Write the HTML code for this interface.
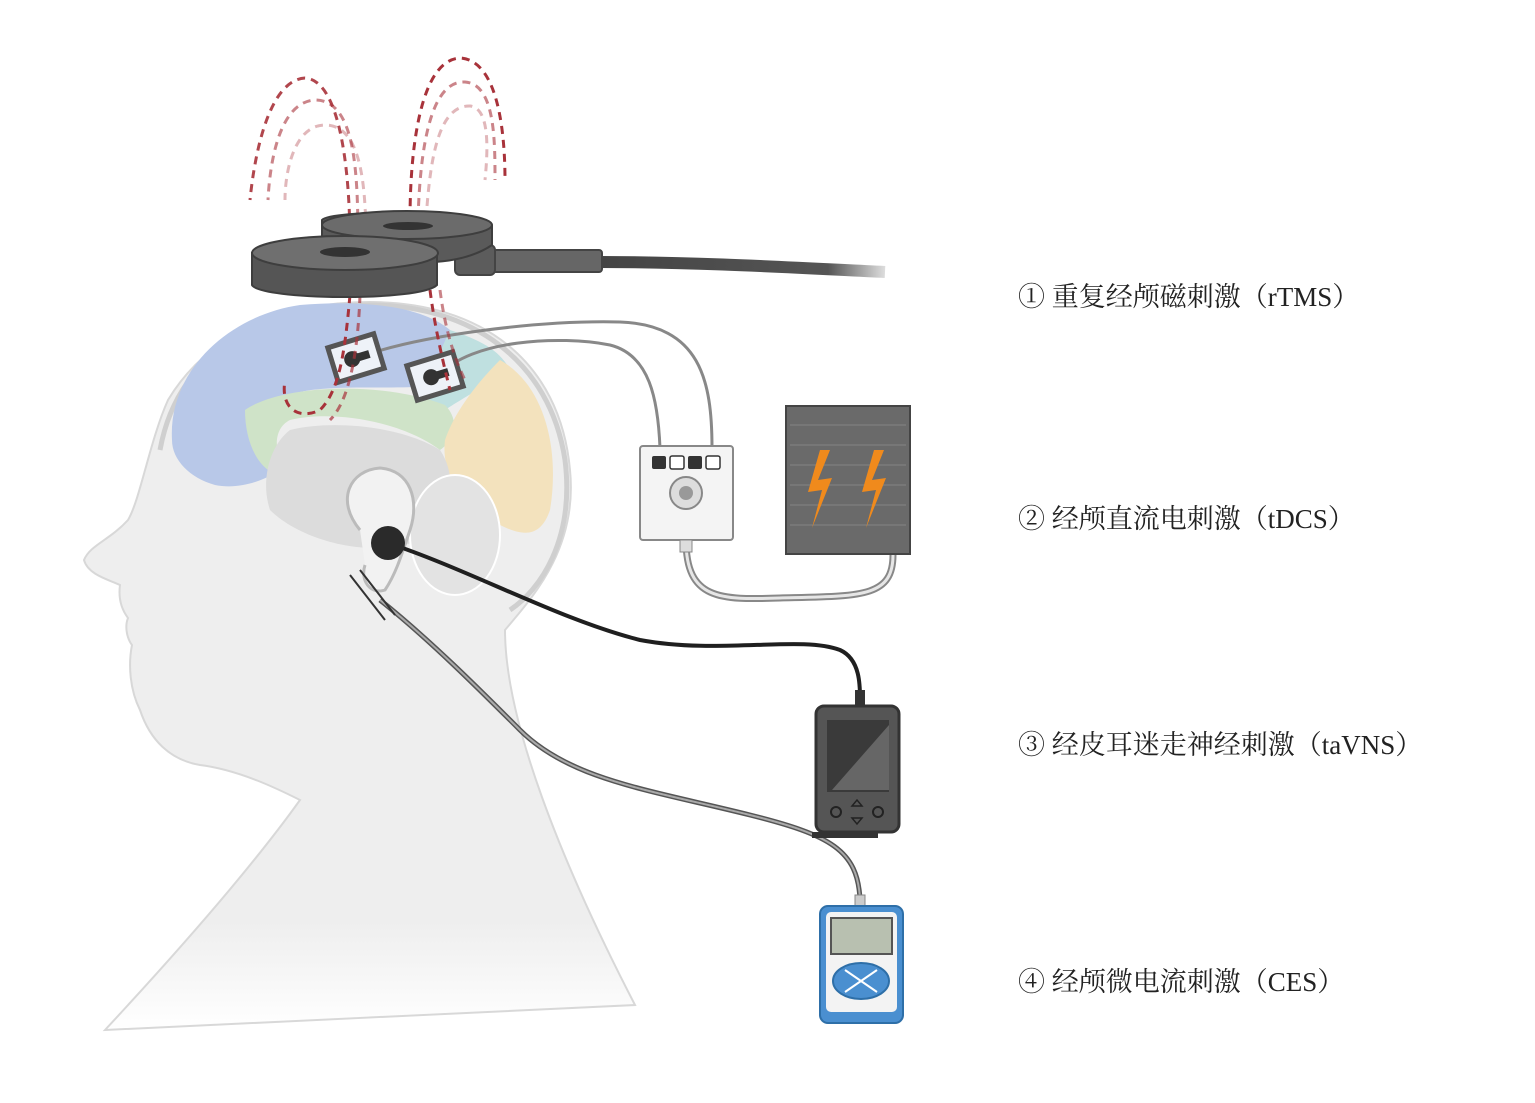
<!DOCTYPE html>
<html><head><meta charset="utf-8"><style>
html,body{margin:0;padding:0;background:#fff;}
svg{display:block;}
.t{font-family:"Liberation Serif","Noto Serif CJK SC",serif;font-size:27px;fill:#222;}
</style></head><body>
<svg width="1535" height="1103" viewBox="0 0 1535 1103" xmlns="http://www.w3.org/2000/svg">
<defs>
<linearGradient id="cab" x1="0" x2="1"><stop offset="0" stop-color="#444"/><stop offset="0.8" stop-color="#555"/><stop offset="1" stop-color="#ddd"/></linearGradient>
<linearGradient id="fade" x1="0" y1="0" x2="0" y2="1"><stop offset="0" stop-color="#eee"/><stop offset="0.85" stop-color="#eee"/><stop offset="1" stop-color="#fff"/></linearGradient>
</defs>
<!-- head silhouette -->
<path d="M168,400 C210,330 290,302 370,302 C480,302 560,360 570,470 C578,550 530,600 505,630 C505,720 560,860 635,1005 L105,1030 C170,960 250,870 300,800 C280,790 240,770 200,765 C170,760 150,740 140,710 C130,690 128,665 132,645 C128,640 124,628 128,618 C122,610 118,600 120,585 C110,580 88,575 84,560 C90,545 110,540 128,520 C140,500 150,440 168,400 Z" fill="url(#fade)" stroke="#d8d8d8" stroke-width="2"/>
<!-- skull outline -->
<path d="M160,450 C180,340 280,305 370,305 C470,305 550,360 565,460 C575,540 540,590 510,610" fill="none" stroke="#cfcfcf" stroke-width="5"/>
<!-- brain regions -->
<path d="M172,440 C168,370 230,315 300,305 C360,300 420,305 450,330 L460,380 C420,395 330,380 290,395 C250,410 255,450 280,470 C265,480 240,490 215,485 C190,478 172,460 172,440 Z" fill="#b8c8e8"/>
<path d="M450,330 C480,340 500,350 510,370 C470,395 460,400 445,410 L420,395 Z" fill="#bfe0e0"/>
<path d="M245,410 C280,385 380,380 445,405 C460,420 455,440 440,450 C400,420 330,410 290,420 C270,430 275,460 290,475 C265,480 245,450 245,410 Z" fill="#cfe3c8"/>
<path d="M500,360 C545,385 560,450 550,510 C540,540 520,535 500,525 C470,510 440,480 445,440 C455,410 480,380 500,360 Z" fill="#f3e2bd"/>
<path d="M290,430 C330,420 400,425 440,450 C460,480 450,520 420,540 C370,560 300,540 270,510 C260,480 270,445 290,430 Z" fill="#dcdcdc"/>
<ellipse cx="455" cy="535" rx="45" ry="60" fill="#e3e3e3" stroke="#fff" stroke-width="2"/>
<!-- ear -->
<path d="M360,530 C335,500 350,470 380,468 C410,470 420,500 410,530 C400,560 395,575 385,590 C370,595 360,580 365,565" fill="#f2f2f2" stroke="#bbb" stroke-width="3"/>
<!-- tDCS wires -->
<path d="M360,357 C420,335 540,320 620,322 C700,325 712,380 712,448" fill="none" stroke="#888" stroke-width="3"/>
<path d="M440,375 C470,340 560,335 610,345 C650,355 658,400 660,448" fill="none" stroke="#888" stroke-width="3"/>
<path d="M686,540 C686,600 720,600 780,598 C860,596 893,598 893,555" fill="none" stroke="#888" stroke-width="7"/>
<path d="M686,540 C686,600 720,600 780,598 C860,596 893,598 893,555" fill="none" stroke="#e6e6e6" stroke-width="3"/>
<!-- taVNS wire -->
<path d="M388,543 C470,570 560,620 640,640 C720,655 800,635 840,650 C862,660 860,690 860,705" fill="none" stroke="#1f1f1f" stroke-width="4"/>
<!-- CES wire -->
<path d="M380,600 C430,640 480,690 520,730 C570,780 650,790 750,815 C830,835 858,850 860,900" fill="none" stroke="#555" stroke-width="5"/>
<path d="M380,600 C430,640 480,690 520,730 C570,780 650,790 750,815 C830,835 858,850 860,900" fill="none" stroke="#aaa" stroke-width="2"/>
<path d="M350,575 L385,620 M360,570 L395,615" stroke="#333" stroke-width="2"/>
<circle cx="388" cy="543" r="17" fill="#2a2a2a"/>
<!-- electrodes -->
<g transform="translate(356,358) rotate(-17)"><rect x="-24" y="-18" width="48" height="36" fill="#eef2f8" stroke="#555" stroke-width="5"/><circle cx="-4" cy="0" r="8" fill="#333"/><rect x="0" y="-4" width="14" height="8" fill="#333"/></g>
<g transform="translate(435,376) rotate(-17)"><rect x="-24" y="-18" width="48" height="36" fill="#eef2f8" stroke="#555" stroke-width="5"/><circle cx="-4" cy="0" r="8" fill="#333"/><rect x="0" y="-4" width="14" height="8" fill="#333"/></g>
<!-- red field lines -->
<g fill="none" stroke="#a8323a" stroke-width="3" stroke-dasharray="8,6">
<path d="M350,245 C350,170 340,80 305,78 C270,80 255,150 250,200" stroke-opacity="0.9"/>
<path d="M358,245 C358,170 355,100 315,100 C280,102 270,160 268,200" stroke-opacity="0.6"/>
<path d="M366,245 C366,180 360,125 325,125 C295,125 285,170 285,200" stroke-opacity="0.35"/>
<path d="M410,220 C410,150 420,60 460,58 C500,60 505,140 505,180"/>
<path d="M418,220 C420,150 430,80 465,82 C495,84 495,140 495,180" stroke-opacity="0.6"/>
<path d="M426,220 C430,160 438,105 470,106 C490,108 488,150 485,180" stroke-opacity="0.35"/>
<path d="M350,295 C345,350 340,390 320,410 C300,420 280,410 285,380" />
<path d="M360,295 C358,350 350,400 330,420" stroke-opacity="0.7"/>
<path d="M430,290 C435,330 445,370 450,390"/>
<path d="M440,290 C445,330 455,360 465,380" stroke-opacity="0.6"/>
</g>
<!-- coil cable -->
<path d="M600,262 C700,262 800,268 885,272" fill="none" stroke="url(#cab)" stroke-width="12"/>
<rect x="490" y="250" width="112" height="22" rx="3" fill="#666" stroke="#444" stroke-width="2"/>
<rect x="455" y="245" width="40" height="30" rx="5" fill="#5c5c5c" stroke="#444" stroke-width="2"/>
<!-- coil -->
<path d="M322,220 C330,210 480,208 492,225 L492,245 C470,260 440,262 430,262 L322,240 Z" fill="#5a5a5a" stroke="#3e3e3e" stroke-width="2"/>
<ellipse cx="407" cy="225" rx="85" ry="14" fill="#6b6b6b" stroke="#3e3e3e" stroke-width="2"/>
<path d="M252,253 L252,285 C260,300 420,302 437,285 L437,253 Z" fill="#555" stroke="#3e3e3e" stroke-width="2"/>
<ellipse cx="345" cy="253" rx="93" ry="17" fill="#6f6f6f" stroke="#3e3e3e" stroke-width="2"/>
<ellipse cx="345" cy="252" rx="25" ry="5" fill="#333"/>
<ellipse cx="408" cy="226" rx="25" ry="4" fill="#333"/>
<!-- tDCS control box -->
<rect x="640" y="446" width="93" height="94" rx="3" fill="#f4f4f4" stroke="#888" stroke-width="2"/>
<rect x="652" y="456" width="14" height="13" rx="2" fill="#333"/><rect x="670" y="456" width="14" height="13" rx="2" fill="#fff" stroke="#333" stroke-width="1.5"/><rect x="688" y="456" width="14" height="13" rx="2" fill="#333"/><rect x="706" y="456" width="14" height="13" rx="2" fill="#fff" stroke="#333" stroke-width="1.5"/>
<circle cx="686" cy="493" r="16" fill="#ddd" stroke="#888" stroke-width="2"/><circle cx="686" cy="493" r="7" fill="#999"/>
<rect x="680" y="540" width="12" height="12" fill="#ddd" stroke="#888"/>
<!-- battery -->
<rect x="786" y="406" width="124" height="148" fill="#6a6a6a" stroke="#444" stroke-width="2"/>
<g stroke="#777" stroke-width="2">
<line x1="790" y1="425" x2="906" y2="425"/><line x1="790" y1="445" x2="906" y2="445"/><line x1="790" y1="465" x2="906" y2="465"/><line x1="790" y1="485" x2="906" y2="485"/><line x1="790" y1="505" x2="906" y2="505"/><line x1="790" y1="525" x2="906" y2="525"/></g>
<path d="M820,450 L808,492 L822,490 L812,528 L832,478 L818,480 L830,450 Z" fill="#f08a1c"/>
<path d="M874,450 L862,492 L876,490 L866,528 L886,478 L872,480 L884,450 Z" fill="#f08a1c"/>
<!-- taVNS device -->
<rect x="855" y="690" width="10" height="18" fill="#333"/>
<rect x="816" y="706" width="83" height="126" rx="8" fill="#555" stroke="#333" stroke-width="3"/>
<path d="M827,720 L889,720 L889,792 L827,792 Z" fill="#3a3a3a"/>
<path d="M889,725 L889,790 L832,790 Z" fill="#666"/>
<circle cx="836" cy="812" r="5" fill="none" stroke="#222" stroke-width="2"/><circle cx="878" cy="812" r="5" fill="none" stroke="#222" stroke-width="2"/>
<path d="M852,806 L857,800 L862,806 Z M852,818 L857,824 L862,818 Z" fill="none" stroke="#222" stroke-width="1.5"/>
<rect x="812" y="832" width="66" height="6" fill="#333"/>
<!-- CES device -->
<rect x="855" y="895" width="10" height="14" fill="#ccc" stroke="#888"/>
<rect x="820" y="906" width="83" height="117" rx="8" fill="#4a8fd0" stroke="#2e6fa8" stroke-width="2"/>
<rect x="826" y="912" width="71" height="100" rx="5" fill="#f3f3f3"/>
<rect x="831" y="918" width="61" height="36" fill="#b8c0b0" stroke="#555" stroke-width="2"/>
<ellipse cx="861" cy="981" rx="28" ry="18" fill="#4a8fd0" stroke="#2e6fa8" stroke-width="2"/>
<path d="M845,970 L877,992 M877,970 L845,992" stroke="#fff" stroke-width="2"/>
<!-- labels -->
<text class="t" x="1018" y="306">① 重复经颅磁刺激（rTMS）</text>
<text class="t" x="1018" y="528">② 经颅直流电刺激（tDCS）</text>
<text class="t" x="1018" y="754">③ 经皮耳迷走神经刺激（taVNS）</text>
<text class="t" x="1018" y="991">④ 经颅微电流刺激（CES）</text>
</svg>
</body></html>
